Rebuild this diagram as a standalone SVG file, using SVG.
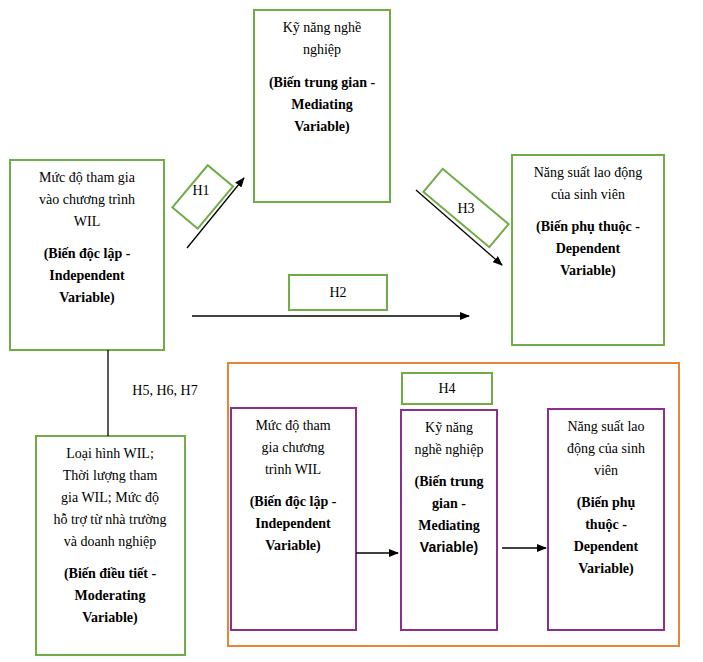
<svg xmlns="http://www.w3.org/2000/svg" width="703" height="662" viewBox="0 0 703 662">
<style>
text{font-family:"Liberation Serif",serif;font-size:14px;fill:#000;text-anchor:middle}
.b{font-weight:bold}
.g{fill:#fff;stroke:#70AD47;stroke-width:2}
.p{fill:#fff;stroke:#8B2F8F;stroke-width:2}
.o{fill:none;stroke:#E8833A;stroke-width:2}
.c{stroke:#000;stroke-width:1.3;fill:none;marker-end:url(#a)}
</style>
<defs><marker id="a" markerWidth="10" markerHeight="8" refX="9" refY="4" orient="auto" markerUnits="userSpaceOnUse"><path d="M0,0L10,4L0,8z" fill="#000"/></marker></defs>
<rect class="o" x="228" y="363" width="451" height="283"/>
<g id="mid"><rect class="g" x="254" y="10" width="136" height="192"/>
<text x="322" y="32">Kỹ năng nghề</text><text x="322" y="54">nghiệp</text>
<text class="b" x="322" y="87">(Biến trung gian -</text><text class="b" x="322" y="109">Mediating</text><text class="b" x="322" y="131">Variable)</text></g>
<g id="iv"><rect class="g" x="10" y="160" width="154" height="190"/>
<text x="87" y="182">Mức độ tham gia</text><text x="87" y="204">vào chương trình</text><text x="87" y="226">WIL</text>
<text class="b" x="87" y="258">(Biến độc lập -</text><text class="b" x="87" y="280">Independent</text><text class="b" x="87" y="302">Variable)</text></g>
<g id="dv"><rect class="g" x="512" y="155" width="152" height="190"/>
<text x="588" y="177">Năng suất lao động</text><text x="588" y="199">của sinh viên</text>
<text class="b" x="588" y="231">(Biến phụ thuộc -</text><text class="b" x="588" y="253">Dependent</text><text class="b" x="588" y="275">Variable)</text></g>
<g id="mod"><rect class="g" x="36" y="436" width="149" height="219"/>
<text x="110" y="458">Loại hình WIL;</text><text x="110" y="480">Thời lượng tham</text><text x="110" y="502">gia WIL; Mức độ</text><text x="110" y="524">hỗ trợ từ nhà trường</text><text x="110" y="546">và doanh nghiệp</text>
<text class="b" x="110" y="578">(Biến điều tiết -</text><text class="b" x="110" y="600">Moderating</text><text class="b" x="110" y="622">Variable)</text></g>
<g id="h1"><rect class="g" x="175" y="181" width="55" height="33" transform="rotate(-50 202 197)"/><text x="201" y="195">H1</text></g>
<g id="h3"><rect class="g" x="423" y="193" width="86" height="30" transform="rotate(40 466 208)"/><text x="466" y="213">H3</text></g>
<g id="h2"><rect class="g" x="289" y="275" width="98" height="35"/><text x="338" y="297">H2</text></g>
<g id="h4"><rect class="g" x="402" y="373" width="90" height="31"/><text x="447" y="393">H4</text></g>
<g id="h567"><text x="165" y="395">H5, H6, H7</text></g>
<g id="p1"><rect class="p" x="231" y="408" width="125" height="222"/>
<text x="293" y="430">Mức độ tham</text><text x="293" y="452">gia chương</text><text x="293" y="474">trình WIL</text>
<text class="b" x="293" y="506">(Biến độc lập -</text><text class="b" x="293" y="528">Independent</text><text class="b" x="293" y="550">Variable)</text></g>
<g id="p2"><rect class="p" x="401" y="410" width="96" height="220"/>
<text x="449" y="432">Kỹ năng</text><text x="449" y="454">nghề nghiệp</text>
<text class="b" x="449" y="486">(Biến trung</text><text class="b" x="449" y="508">gian -</text><text class="b" x="449" y="530">Mediating</text><text class="b" x="449" y="552" style="font-family:'Liberation Sans',sans-serif">Variable)</text></g>
<g id="p3"><rect class="p" x="548" y="409" width="116" height="221"/>
<text x="606" y="431">Năng suất lao</text><text x="606" y="453">động của sinh</text><text x="606" y="475">viên</text>
<text class="b" x="606" y="507">(Biến phụ</text><text class="b" x="606" y="529">thuộc -</text><text class="b" x="606" y="551">Dependent</text><text class="b" x="606" y="573">Variable)</text></g>
<g id="connectors">
<path class="c" d="M187,248L244,178"/>
<path class="c" d="M416,190L502,265"/>
<path class="c" d="M192,316L469,316"/>
<path d="M108,350V436" stroke="#000" stroke-width="1.3"/>
<path class="c" d="M356,553L398,553"/>
<path class="c" d="M502,548L546,548"/>
</g>
</svg>
